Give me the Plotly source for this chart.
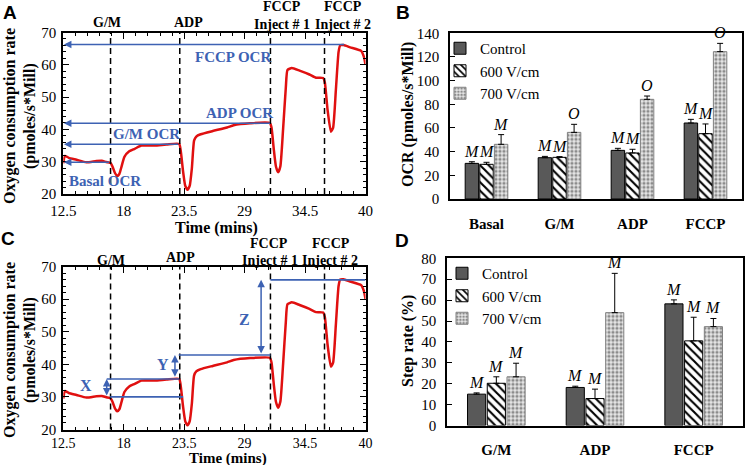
import plotly.graph_objects as go

# ---------------- data ----------------
time_min = [12.5, 12.65, 13.0, 13.7, 14.6, 15.5, 16.0, 16.4, 16.8, 17.0, 17.2, 17.4, 17.6, 17.8,
            18.06, 18.5, 19.0, 19.6, 20.8, 21.9, 23.05, 23.2, 23.4, 23.6, 23.8, 24.0, 24.2, 24.4,
            24.6, 25.0, 26.1, 27.4, 28.0, 29.5, 31.3, 31.45, 31.65, 31.85, 32.05, 32.25, 32.5,
            32.75, 32.9, 33.3, 34.0, 34.9, 35.5, 36.15, 36.3, 36.55, 36.85, 37.05, 37.3, 37.55,
            37.7, 38.0, 38.6, 39.6, 39.85, 40.0]
ocr_trace = [29.5, 31.8, 31.2, 30.6, 29.8, 30.2, 30.3, 29.9, 29.6, 28.3, 26.5, 25.6, 26.2, 28.5,
             31.5, 33.2, 34.0, 35.0, 35.0, 35.3, 35.5, 33.0, 27.0, 22.5, 21.3, 22.5, 28.0, 36.5,
             37.8, 38.5, 39.5, 40.6, 41.3, 41.9, 42.0, 40.5, 34.0, 28.5, 26.7, 28.5, 40.0,
             53.0, 58.4, 59.0, 58.2, 57.0, 56.0, 55.9, 54.5, 46.0, 39.3, 40.5, 52.0, 64.0,
             66.0, 66.1, 65.4, 64.3, 62.5, 60.0]

inject_times = [16.8, 23.1, 31.35, 36.27]
time_ticks = [12.5, 18, 23.5, 29, 34.5, 40]

# OCR levels (panel A)
basal_ocr, gm_ocr, adp_ocr, fccp_ocr = 29.8, 35.4, 41.9, 66.3

# Bar panel B
b_cats = ["Basal", "G/M", "ADP", "FCCP"]
b_control = [30.1, 34.9, 41.1, 64.2]
b_control_err = [1.4, 1.1, 1.7, 3.1]
b_600 = [29.3, 35.2, 38.9, 55.2]
b_600_err = [1.7, 0.6, 3.1, 8.2]
b_700 = [46.2, 56.3, 84.2, 124.5]
b_700_err = [8.2, 6.8, 2.8, 7.0]
b_lab_control = ["M", "M", "M", "M"]
b_lab_600 = ["M", "M", "M", "M"]
b_lab_700 = ["M", "O", "O", "O"]

# Bar panel D
d_cats = ["G/M", "ADP", "FCCP"]
d_control = [15.0, 18.2, 58.2]
d_control_err = [0.6, 0.6, 1.9]
d_600 = [20.2, 12.9, 40.5]
d_600_err = [3.1, 4.5, 11.3]
d_700 = [23.3, 54.0, 47.3]
d_700_err = [6.5, 18.8, 3.9]
d_lab = ["M", "M", "M"]

series_names = ["Control", "600 V/cm", "700 V/cm"]

# ---------------- layout helpers ----------------
W, H = 747, 465
SERIF = "Liberation Serif, Times New Roman, serif"
SANS = "Liberation Sans, Arial, sans-serif"
BLUE = "#3d62b3"
RED = "#e01010"


def fx(p):
    return p / W


def fy(p):
    return 1 - p / H


fig = go.Figure()

# line panels
for xa, ya in (("x", "y"), ("x3", "y3")):
    fig.add_trace(go.Scatter(x=time_min, y=ocr_trace, mode="lines", xaxis=xa, yaxis=ya,
                             line=dict(color=RED, width=2.5, shape="spline", smoothing=0.5),
                             showlegend=False, hoverinfo="skip"))

styles = [
    dict(color="#595959", line=dict(color="black", width=1)),
    dict(color="white", line=dict(color="black", width=1),
         pattern=dict(shape="\\", fgcolor="black", bgcolor="white", size=6, solidity=0.35)),
    dict(color="#e3e3e3", line=dict(color="#808080", width=1),
         pattern=dict(shape=".", fgcolor="#8c8c8c", bgcolor="#e6e6e6", size=4, solidity=0.5)),
]

B_GAP, B_GGAP = 0.40, 0.08
D_GAP = 0.40

b_vals = [b_control, b_600, b_700]
b_errs = [b_control_err, b_600_err, b_700_err]
b_labs = [b_lab_control, b_lab_600, b_lab_700]
for k in range(3):
    fig.add_trace(go.Bar(x=b_cats, y=b_vals[k], name=series_names[k], xaxis="x2", yaxis="y2",
                         marker=styles[k], legend="legend",
                         error_y=dict(type="data", array=b_errs[k], arrayminus=[0] * len(b_cats),
                                      symmetric=False, color="black", thickness=1, width=3)))

d_vals = [d_control, d_600, d_700]
d_errs = [d_control_err, d_600_err, d_700_err]
for k in range(3):
    fig.add_trace(go.Bar(x=d_cats, y=d_vals[k], name=series_names[k], xaxis="x4", yaxis="y4",
                         marker=styles[k], legend="legend2",
                         error_y=dict(type="data", array=d_errs[k], arrayminus=[0] * len(d_cats),
                                      symmetric=False, color="black", thickness=1, width=3)))

ann = []
shapes = []


def bar_letters(vals, errs, labs, gap, xr, yr):
    slot = (1 - gap) / 3
    for k in range(3):
        off = (k - 1) * slot
        for i, v in enumerate(vals[k]):
            ann.append(dict(x=i + off, y=v + errs[k][i], xref=xr, yref=yr, text="<i>%s</i>" % labs[k][i],
                            showarrow=False, yanchor="bottom", yshift=0,
                            font=dict(family=SERIF, size=16, color="black")))


bar_letters(b_vals, b_errs, b_labs, B_GAP, "x2", "y2")
bar_letters(d_vals, d_errs, [d_lab, d_lab, d_lab], D_GAP, "x4", "y4")

# dashed injection lines
for xr, yr in (("x", "y domain"), ("x3", "y3 domain")):
    for t in inject_times:
        shapes.append(dict(type="line", xref=xr, yref=yr, x0=t, x1=t, y0=0, y1=1, layer="above",
                           line=dict(color="black", width=1.5, dash="6px,4px")))

# Panel A arrows
for lvl, end in ((fccp_ocr, 38.2), (adp_ocr, 31.45), (gm_ocr, 23.1), (basal_ocr, 16.8)):
    ann.append(dict(x=12.56, y=lvl, ax=end, ay=lvl, xref="x", yref="y", axref="x", ayref="y",
                    text="", showarrow=True, arrowhead=2, arrowsize=1, arrowwidth=1.5,
                    arrowcolor=BLUE, standoff=0, startstandoff=0))

for txt, t, v in (("FCCP OCR", 27.9, 62.5), ("ADP OCR", 28.55, 45.0),
                  ("G/M OCR", 20.1, 38.5), ("Basal OCR", 16.3, 24.0)):
    ann.append(dict(x=t, y=v, xref="x", yref="y", text="<b>%s</b>" % txt, showarrow=False,
                    font=dict(family=SERIF, size=15, color=BLUE)))

# Panel C lines and arrows
for lvl, t0, t1 in ((30.0, 16.77, 23.4), (35.5, 16.45, 23.05), (42.85, 23.0, 31.35), (65.9, 31.35, 40.0)):
    shapes.append(dict(type="line", xref="x3", yref="y3", x0=t0, x1=t1, y0=lvl, y1=lvl, layer="above",
                       line=dict(color=BLUE, width=1.6)))

for t, lo, hi in ((16.45, 30.0, 35.5), (22.66, 35.7, 42.85), (30.5, 42.85, 65.9)):
    ann.append(dict(x=t, y=hi, ax=t, ay=lo, xref="x3", yref="y3", axref="x3", ayref="y3",
                    text="", showarrow=True, arrowhead=2, arrowside="end+start", arrowsize=1,
                    arrowwidth=1.5, arrowcolor=BLUE, standoff=0, startstandoff=0))

for txt, t, v in (("X", 14.6, 33.6), ("Y", 21.6, 39.8), ("Z", 29.0, 53.6)):
    ann.append(dict(x=t, y=v, xref="x3", yref="y3", text="<b>%s</b>" % txt, showarrow=False,
                    font=dict(family=SERIF, size=16, color=BLUE)))


def top_label(txt, t, ypix, xr):
    ann.append(dict(x=t, y=fy(ypix), xref=xr, yref="paper", text="<b>%s</b>" % txt, showarrow=False,
                    yanchor="middle", font=dict(family=SERIF, size=14, color="black")))


for txt, t, yp in (("G/M", 16.5, 22), ("ADP", 23.93, 22), ("FCCP", 32.4, 7), ("Inject # 1", 32.37, 24),
                   ("FCCP", 37.97, 7), ("Inject # 2", 37.92, 24)):
    top_label(txt, t, yp, "x")
for txt, t, yp in (("G/M", 16.87, 260), ("ADP", 23.14, 257), ("FCCP", 31.19, 243), ("Inject # 1", 31.3, 260),
                   ("FCCP", 36.85, 243), ("Inject # 2", 36.79, 260)):
    top_label(txt, t, yp, "x3")


def paper_text(txt, xp, yp, size, angle=0, family=SERIF):
    ann.append(dict(x=fx(xp), y=fy(yp), xref="paper", yref="paper", text=txt, showarrow=False,
                    textangle=angle, xanchor="center", yanchor="middle",
                    font=dict(family=family, size=size, color="black")))


paper_text("<b>Oxygen consumption rate</b>", 10, 116, 16, -90)
paper_text("<b>(pmoles/s*Mill)</b>", 30, 116, 16, -90)
paper_text("<b>Oxygen consumption rate</b>", 10, 350, 16, -90)
paper_text("<b>(pmoles/s*Mill)</b>", 30, 350, 16, -90)
paper_text("<b>Time (mins)</b>", 216, 228, 16)
paper_text("<b>Time (mins)</b>", 228, 458.2, 15)
paper_text("<b>OCR (pmoles/s*Mill)</b>", 408, 115, 16, -90)
paper_text("<b>Step rate (%)</b>", 408, 341, 16, -90)
paper_text("<b>A</b>", 10, 13, 19, 0, SANS)
paper_text("<b>B</b>", 403, 13, 19, 0, SANS)
paper_text("<b>C</b>", 8, 238, 19, 0, SANS)
paper_text("<b>D</b>", 402, 240, 19, 0, SANS)

tickfont = dict(family=SERIF, size=15, color="black")
boldcat = dict(family=SERIF, size=15, color="black")


def line_x(standoff, size):
    return dict(range=[12.5, 40], tickvals=time_ticks, ticktext=[str(v) for v in time_ticks],
                ticks="inside", ticklen=6, tickwidth=1.2, tickcolor="black",
                showline=True, linecolor="black", linewidth=2, mirror="allticks", automargin=False,
                showgrid=False, zeroline=False, tickfont=dict(family=SERIF, size=size, color="black"),
                ticklabelstandoff=standoff,
                minor=dict(dtick=1.1, tick0=12.5, ticks="inside", ticklen=3, tickcolor="black",
                           showgrid=False))


line_y = dict(range=[20, 70], dtick=10, ticks="inside", ticklen=6, tickwidth=1.2, tickcolor="black",
              showline=True, linecolor="black", linewidth=2, mirror="allticks", automargin=False,
              showgrid=False, zeroline=False, tickfont=tickfont, ticklabelstandoff=2,
              minor=dict(dtick=2, ticks="inside", ticklen=3, tickcolor="black", showgrid=False))

bar_x = dict(showline=True, linecolor="black", linewidth=1.5, mirror=True, ticks="", automargin=False,
             showgrid=False, zeroline=False, ticklabelstandoff=10)
bar_y = dict(ticks="inside", ticklen=5, tickcolor="black", showline=True, linecolor="black",
             linewidth=1.5, mirror=True, showgrid=False, zeroline=False, tickfont=tickfont,
             ticklabelstandoff=6, automargin=False)

fig.update_layout(
    template="none",
    font=dict(family=SERIF, color="black"),
    width=W, height=H, margin=dict(l=0, r=0, t=0, b=0, pad=0, autoexpand=False), autosize=False,
    paper_bgcolor="white", plot_bgcolor="white", showlegend=True,
    barmode="group", bargap=B_GAP, bargroupgap=B_GGAP,
    xaxis=dict(domain=[fx(63.3), fx(365.5)], anchor="y", **line_x(2, 15)),
    yaxis=dict(domain=[fy(194), fy(32.5)], anchor="x", **line_y),
    xaxis3=dict(domain=[fx(63.3), fx(365.5)], anchor="y3", **line_x(0, 14)),
    yaxis3=dict(domain=[fy(429.5), fy(266.5)], anchor="x3", **line_y),
    xaxis2=dict(domain=[fx(450), fx(742)], anchor="y2",
                tickvals=b_cats, ticktext=["<b>%s</b>" % c for c in b_cats], tickfont=boldcat, **bar_x),
    yaxis2=dict(domain=[fy(199), fy(33.3)], anchor="x2", range=[0, 140], dtick=20, **bar_y),
    xaxis4=dict(domain=[fx(447), fx(743)], anchor="y4",
                tickvals=d_cats, ticktext=["<b>%s</b>" % c for c in d_cats], tickfont=boldcat, **bar_x),
    yaxis4=dict(domain=[fy(425.5), fy(258.3)], anchor="x4", range=[0, 80], dtick=10, **bar_y),
    legend=dict(x=fx(440), y=fy(32), xanchor="left", yanchor="top", bgcolor="rgba(0,0,0,0)",
                font=dict(family=SERIF, size=15, color="black"), itemwidth=30, borderwidth=0),
    legend2=dict(x=fx(442), y=fy(257), xanchor="left", yanchor="top", bgcolor="rgba(0,0,0,0)",
                 font=dict(family=SERIF, size=15, color="black"), itemwidth=30, borderwidth=0),
    annotations=ann, shapes=shapes,
)

fig.write_html("out.html", config={"displayModeBar": False},
               post_script="document.body.style.margin='0px';")
